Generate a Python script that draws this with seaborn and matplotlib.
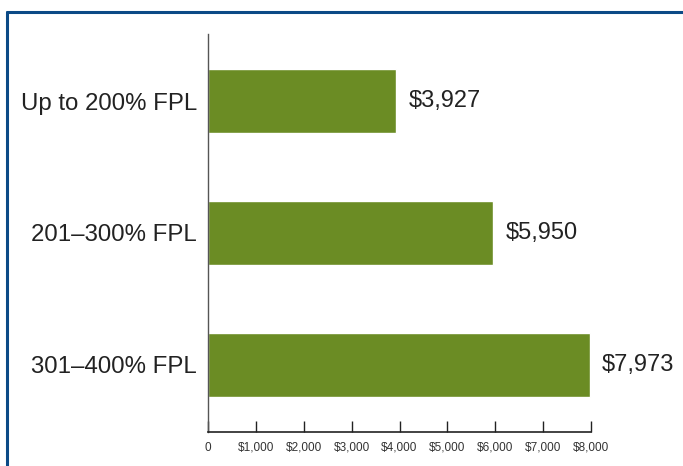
import matplotlib
matplotlib.use("Agg")
import matplotlib.pyplot as plt
import seaborn as sns
import pandas as pd
from matplotlib.lines import Line2D

# data
groups = ["Up to 200% FPL", "201\u2013300% FPL", "301\u2013400% FPL"]
costs = [3927, 5950, 7973]
ticks = [0, 1000, 2000, 3000, 4000, 5000, 6000, 7000, 8000]
tick_labels = ["0"] + ["${:,}".format(t) for t in ticks[1:]]

df = pd.DataFrame({"group": groups, "cost": costs})

sns.set_style("white")
plt.rcParams["font.family"] = ["Liberation Sans", "DejaVu Sans"]

fig = plt.figure(figsize=(6.83, 4.66), dpi=100)
ax = fig.add_axes([208 / 683, 1 - 432 / 466, 383 / 683, 398 / 466])

sns.barplot(data=df, x="cost", y="group", orient="h", color="#6b8c24",
            saturation=1, width=0.485, ax=ax)

ax.set_xlim(0, 8000)
ax.set_ylim(2.508, -0.508)
ax.set_xticks(ticks)
ax.set_xticklabels(tick_labels, fontsize=8.5, color="#333333")
ax.set_xlabel("")
ax.set_ylabel("")
ax.tick_params(axis="y", length=0, labelsize=17.3, pad=8, labelcolor="#222222")
ax.tick_params(axis="x", bottom=True, direction="in", length=8, width=1,
               color="#222222", pad=7)

for s in ["top", "right"]:
    ax.spines[s].set_visible(False)
ax.spines["left"].set_color("#555555")
ax.spines["left"].set_linewidth(1)
ax.spines["bottom"].set_color("#222222")
ax.spines["bottom"].set_linewidth(1.2)

ax.bar_label(ax.containers[0], labels=["${:,}".format(v) for v in costs],
             padding=9, fontsize=17, color="#222222", clip_on=False)

# blue frame around the panel
fig.add_artist(Line2D([7 / 683, 1], [1 - 11.5 / 466] * 2, transform=fig.transFigure,
                      color="#0b4a86", linewidth=2.2))
fig.add_artist(Line2D([6.5 / 683] * 2, [0, 1 - 11.5 / 466], transform=fig.transFigure,
                      color="#0b4a86", linewidth=2.2))

fig.savefig("out.png", dpi=100)
